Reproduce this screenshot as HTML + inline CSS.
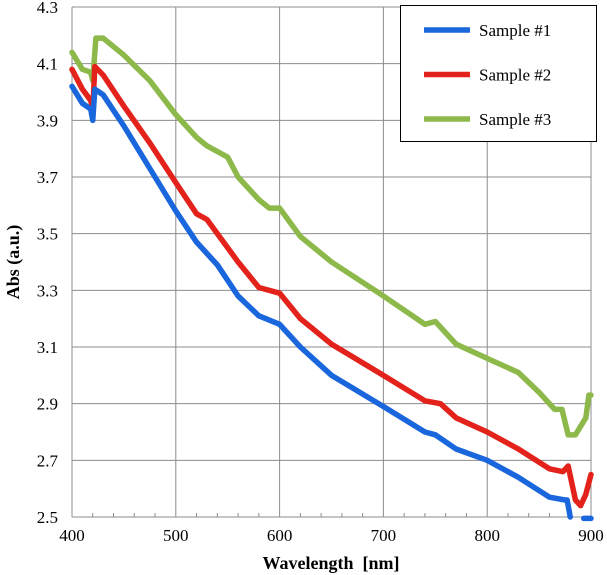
<!DOCTYPE html>
<html><head><meta charset="utf-8"><style>
body{margin:0;background:#fff}
svg{display:block;font-family:"Liberation Serif",serif}
</style></head><body>
<svg id="chart" width="607" height="575" viewBox="0 0 607 575" xmlns="http://www.w3.org/2000/svg">
<g id="grid"></g><g id="axes"></g><g id="series"></g><g id="legend"></g>
</svg>
<script>
const xTicks=[400,500,600,700,800,900];
const yTicks=[2.5,2.7,2.9,3.1,3.3,3.5,3.7,3.9,4.1,4.3];
const seriesNames=["Sample #1","Sample #2","Sample #3"];
const seriesColors=["#1a66dd","#e3231b","#8db84a"];
const wl1=[400,410,418,420,422,430,450,475,500,520,540,560,580,600,620,650,700,740,750,770,800,830,860,875,877,880];
const s1=[4.02,3.96,3.94,3.90,4.01,3.99,3.88,3.73,3.58,3.47,3.39,3.28,3.21,3.18,3.10,3.00,2.89,2.80,2.79,2.74,2.70,2.64,2.57,2.56,2.56,2.50];
const wl1b=[893,900];
const s1b=[2.495,2.495];
const wl2=[400,410,418,420,422,430,450,475,500,520,530,540,560,580,600,620,650,700,740,755,770,800,830,860,873,878,885,890,895,900];
const s2=[4.08,4.01,3.97,3.94,4.09,4.06,3.95,3.82,3.68,3.57,3.55,3.50,3.40,3.31,3.29,3.20,3.11,3.00,2.91,2.90,2.85,2.80,2.74,2.67,2.66,2.68,2.56,2.54,2.58,2.65];
const wl3=[400,410,418,420,423,430,450,475,500,520,530,540,550,560,580,590,600,620,650,700,740,750,770,800,830,850,865,872,878,885,890,895,898,900];
const s3=[4.14,4.08,4.07,4.04,4.19,4.19,4.13,4.04,3.92,3.84,3.81,3.79,3.77,3.70,3.62,3.59,3.59,3.49,3.40,3.28,3.18,3.19,3.11,3.06,3.01,2.94,2.88,2.88,2.79,2.79,2.82,2.85,2.93,2.93];
const L=72,R=591,T=7,B=517;
const xs=v=>L+(v-400)/500*(R-L);
const ys=v=>B-(v-2.5)/1.8*(B-T);
const NS="http://www.w3.org/2000/svg";
function mk(t,a,p){const e=document.createElementNS(NS,t);for(const k in a)e.setAttribute(k,a[k]);p.appendChild(e);return e;}
const grid=document.getElementById('grid'),axes=document.getElementById('axes'),ser=document.getElementById('series'),leg=document.getElementById('legend');
xTicks.forEach(v=>{const l=mk('line',{x1:xs(v),x2:xs(v),y1:T,y2:B,stroke:'#8c8c8c','stroke-width':1},grid);

const t=mk('text',{x:xs(v),y:B+24,'text-anchor':'middle','font-size':17},axes);t.textContent=v;
});
for(let v=420;v<900;v+=20){if(v%100){const m=mk('line',{x1:xs(v),x2:xs(v),y1:B-4,y2:B,stroke:'#8c8c8c'},grid);}}
yTicks.forEach(v=>{const l=mk('line',{x1:L,x2:R,y1:ys(v),y2:ys(v),stroke:'#8c8c8c','stroke-width':1},grid);

const t=mk('text',{x:58,y:ys(v)+6,'text-anchor':'end','font-size':17},axes);t.textContent=v.toFixed(1);
});
const xt=mk('text',{x:331,y:569,'text-anchor':'middle','font-size':18,'font-weight':'bold'},axes);xt.textContent='Wavelength\u00a0\u00a0[nm]';

const yt=mk('text',{x:0,y:0,'text-anchor':'middle','font-size':18,'font-weight':'bold',transform:'translate(19,262) rotate(-90)'},axes);yt.textContent='Abs (a.u.)';

function line(w,s,c,name){const p=mk('polyline',{points:w.map((x,i)=>xs(x)+','+ys(s[i])).join(' '),fill:'none',stroke:c,'stroke-width':5.5,'stroke-linejoin':'round','stroke-linecap':'round'},ser);
}
line(wl3,s3,seriesColors[2],'series-sample-3');
line(wl2,s2,seriesColors[1],'series-sample-2');
line(wl1,s1,seriesColors[0],'series-sample-1');
line(wl1b,s1b,seriesColors[0],'series-sample-1-tail');
const box=mk('rect',{x:400.5,y:5.5,width:196,height:136,fill:'#fff',stroke:'#000'},leg);

seriesNames.forEach((n,i)=>{const y=30+i*44.5;
const l=mk('line',{x1:424,x2:470,y1:y,y2:y,stroke:seriesColors[i],'stroke-width':5.5},leg);

const t=mk('text',{x:479,y:y+6,'font-size':17},leg);t.textContent=n;
});
</script>
</body></html>
